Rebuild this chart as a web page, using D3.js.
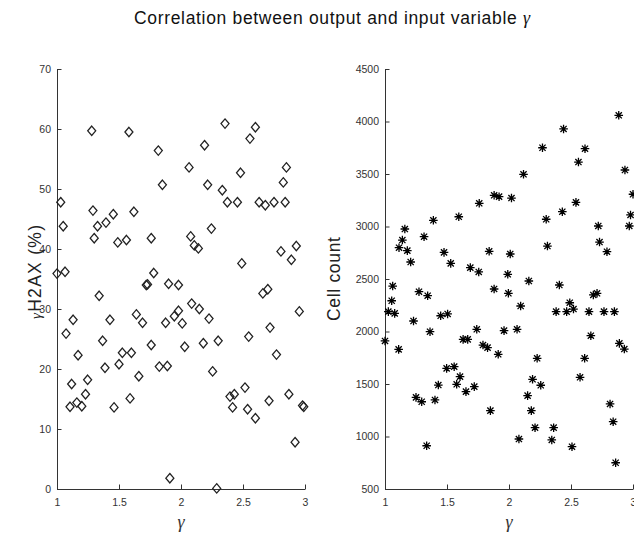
<!DOCTYPE html>
<html>
<head>
<meta charset="utf-8">
<script src="https://cdn.jsdelivr.net/npm/d3@7"></script>
<style>
  html, body { margin: 0; padding: 0; background: #fff; }
  svg { display: block; }
  .tick text { font-family: "Liberation Sans", Arial, sans-serif; font-size: 10.5px; fill: #333; }
  .domain, .tick line { stroke: #333; stroke-width: 1; }
</style>
</head>
<body>
<svg id="fig" width="634" height="538"></svg>
<script>
// Input variable gamma and the two measured outputs, one value per sample.
const gammaH2AXGamma = [1.28,1.58,1.817,1.85,1.03,1.05,1.29,1.30,1.327,1.395,1.454,1.49,1.56,1.62,1.76,1.0,1.065,1.78,
  2.355,2.60,2.556,2.19,2.065,2.48,2.85,2.825,2.215,2.333,2.374,2.455,2.63,2.68,2.75,2.84,2.245,2.078,2.107,2.14,
  2.49,2.806,2.93,2.89,1.72,1.73,1.90,1.98,1.34,1.13,1.073,1.427,1.368,1.64,1.69,1.876,1.76,1.17,1.527,1.60,1.50,
  1.387,1.66,1.825,1.89,1.247,1.118,1.23,1.16,1.105,1.20,1.46,1.589,1.91,2.66,2.70,2.086,2.148,1.98,1.946,2.226,
  2.01,2.954,2.718,2.546,2.03,2.18,2.30,2.77,2.255,2.516,2.395,2.43,2.416,2.537,2.60,2.71,2.87,2.98,2.99,2.92,2.288];
const gammaH2AXValues = [59.7,59.5,56.4,50.7,47.8,43.8,46.4,41.8,43.8,44.4,45.8,41.1,41.5,46.2,41.8,35.9,36.2,36.0,
  60.9,60.3,58.4,57.3,53.6,52.7,53.6,51.1,50.7,49.8,47.8,47.8,47.8,47.3,47.8,47.8,43.4,42.1,40.6,40.1,
  37.6,39.6,40.5,38.2,34.0,34.1,34.2,34.0,32.2,28.2,25.9,28.2,24.7,29.1,27.7,27.7,24.0,22.3,22.7,22.7,20.8,
  20.2,18.8,20.4,20.5,18.2,17.5,15.8,14.4,13.7,13.8,13.6,15.1,1.8,32.6,33.3,30.9,30.0,29.7,28.8,28.4,
  27.6,29.6,26.9,25.4,23.7,24.3,24.7,22.4,19.6,16.9,15.4,15.8,13.6,13.3,11.8,14.7,15.8,13.9,13.7,7.8,0.1];

const cellCountGamma = [1.113,1.14,1.16,1.18,1.207,1.315,1.39,1.476,1.53,1.595,1.688,1.756,1.76,
  2.885,2.44,2.27,2.613,2.56,2.117,2.935,3.0,1.88,1.92,2.02,2.30,2.43,2.54,2.72,2.98,2.97,2.31,2.73,2.79,1.84,2.01,1.99,
  1.062,1.054,1.027,1.078,1.0,1.11,1.274,1.344,1.23,1.363,1.449,1.505,1.497,1.558,1.605,1.578,1.653,1.72,1.63,1.667,
  1.74,1.43,1.403,1.25,1.296,1.336,
  2.16,2.406,1.88,1.995,2.094,2.49,2.52,2.68,2.71,2.38,2.465,2.645,2.766,2.85,2.66,2.89,2.93,1.96,2.065,1.79,1.827,
  1.913,2.227,2.61,2.573,2.19,2.256,2.15,1.85,2.18,2.21,2.36,2.08,2.345,2.508,2.815,2.84,2.86];
const cellCountValues = [2798,2871,2976,2770,2662,2903,3059,2754,2649,3093,2608,2567,3221,
  4059,3929,3750,3741,3614,3497,3538,3307,3297,3284,3271,3069,3141,3230,3005,3110,3005,2814,2852,2760,2764,2738,2545,
  2433,2293,2189,2173,1910,1830,2379,2341,2100,1998,2150,2167,1649,1665,1570,1497,1427,1475,1925,1925,
  2021,1490,1348,1373,1331,912,
  2481,2443,2405,2364,2243,2274,2214,2348,2364,2189,2189,2189,2189,2189,1960,1887,1833,2008,2021,1871,1846,
  1783,1745,1745,1564,1545,1488,1389,1246,1246,1084,1084,976,967,903,1310,1141,750];

const xTicks = [1, 1.5, 2, 2.5, 3];
const leftYTicks = [0, 10, 20, 30, 40, 50, 60, 70];
const rightYTicks = [500, 1000, 1500, 2000, 2500, 3000, 3500, 4000, 4500];

const svg = d3.select("#fig");
const serif = '"Liberation Serif", "DejaVu Serif", serif';
const sans = '"Liberation Sans", Arial, sans-serif';

// Figure title with a TeX-style gamma
const title = svg.append("text")
  .attr("x", 332).attr("y", 24)
  .attr("text-anchor", "middle")
  .attr("font-family", sans).attr("font-size", 17.5).attr("fill", "#111")
  .attr("textLength", 396).attr("lengthAdjust", "spacing");
title.append("tspan").text("Correlation between output and input variable ");
title.append("tspan").attr("font-family", serif).attr("font-style", "italic").attr("font-size", 18).text("γ");

function panel(opts) {
  const x = d3.scaleLinear().domain([1, 3]).range([opts.left, opts.left + 248]);
  const y = d3.scaleLinear().domain(opts.yDomain).range([489, 69]);
  const g = svg.append("g");

  g.append("g").attr("transform", "translate(0,489)")
    .call(d3.axisBottom(x).tickValues(xTicks).tickFormat(d3.format("~g"))
      .tickSizeInner(-4.5).tickSizeOuter(0).tickPadding(10));
  g.append("g").attr("transform", `translate(${opts.left},0)`)
    .call(d3.axisLeft(y).tickValues(opts.yTicks).tickFormat(d3.format("d"))
      .tickSizeInner(-4.5).tickSizeOuter(0).tickPadding(6));

  // x-axis label
  g.append("text")
    .attr("x", opts.left + 124).attr("y", 528)
    .attr("text-anchor", "middle")
    .attr("font-family", serif).attr("font-style", "italic")
    .attr("font-size", 18).attr("fill", "#333").text("γ");

  // y-axis label
  const yl = g.append("text")
    .attr("transform", `translate(${opts.ylabelX},${opts.ylabelY}) rotate(-90)`)
    .attr("text-anchor", "middle")
    .attr("font-family", sans).attr("font-size", 17.5).attr("fill", "#222")
    .attr("textLength", opts.ylabelLength).attr("lengthAdjust", "spacing");
  opts.ylabel(yl);

  const pts = opts.xs.map((v, i) => [x(v), y(opts.ys[i])]);
  opts.draw(g.append("g"), pts);
}

// Left panel: diamonds
panel({
  left: 57, yDomain: [0, 70], yTicks: leftYTicks,
  xs: gammaH2AXGamma, ys: gammaH2AXValues,
  ylabelX: 41, ylabelY: 272, ylabelLength: 94,
  ylabel: t => {
    t.append("tspan").attr("font-family", serif).attr("font-style", "italic").attr("font-size", 15).text("γ");
    t.append("tspan").text("H2AX (%)");
  },
  draw: (g, pts) => {
    g.selectAll("path").data(pts).join("path")
      .attr("d", d => `M${d[0]},${d[1] - 4.7}L${d[0] + 4},${d[1]}L${d[0]},${d[1] + 4.7}L${d[0] - 4},${d[1]}Z`)
      .attr("fill", "none").attr("stroke", "#222").attr("stroke-width", 1.3);
  }
});

// Right panel: asterisks
panel({
  left: 385, yDomain: [500, 4500], yTicks: rightYTicks,
  xs: cellCountGamma, ys: cellCountValues,
  ylabelX: 340, ylabelY: 279, ylabelLength: 84,
  ylabel: t => t.text("Cell count"),
  draw: (g, pts) => {
    const r = 4.3, q = 3.1;
    g.selectAll("path").data(pts).join("path")
      .attr("d", d => `M${d[0]},${d[1] - r}V${d[1] + r}M${d[0] - r},${d[1]}H${d[0] + r}` +
        `M${d[0] - q},${d[1] - q}L${d[0] + q},${d[1] + q}M${d[0] - q},${d[1] + q}L${d[0] + q},${d[1] - q}`)
      .attr("fill", "none").attr("stroke", "#000").attr("stroke-width", 1.3);
  }
});
</script>
</body>
</html>
